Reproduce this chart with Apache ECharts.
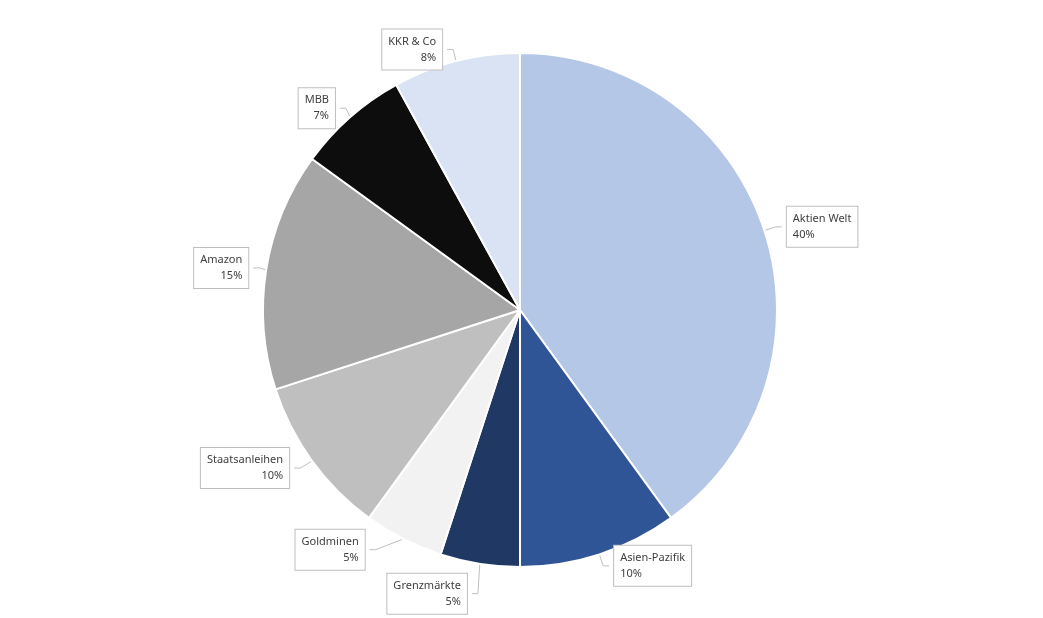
<!DOCTYPE html>
<html><head><meta charset="utf-8">
<script src="https://cdn.jsdelivr.net/npm/echarts@6/dist/echarts.min.js"></script>
<style>html,body{margin:0;background:#fff}#c{width:1043px;height:618px}</style>
</head><body><div id="c"></div>
<script>
const categories=["Aktien Welt","Asien-Pazifik","Grenzmärkte","Goldminen","Staatsanleihen","Amazon","MBB","KKR & Co"];
const values=[40,10,5,5,10,15,7,8];
const colors=["#b4c7e7","#2f5597","#203864","#f2f2f2","#bfbfbf","#a6a6a6","#0d0d0d","#dae3f3"];
const chart=echarts.init(document.getElementById('c'));
chart.setOption({
 animation:false,
 series:[{type:'pie',center:[520,310],radius:257,startAngle:90,clockwise:true,
  data:categories.map((n,i)=>({name:n,value:values[i],itemStyle:{color:colors[i]}})),
  itemStyle:{borderColor:'#fff',borderWidth:2},
  label:{show:true,position:'outside',formatter:'{b}\n{d}%',fontFamily:'Noto Sans',fontSize:11,color:'#404040',lineHeight:16,
   backgroundColor:'#fff',borderColor:'#bfbfbf',borderWidth:1,padding:[4,6],align:'center'},
  labelLine:{show:true,length:12,length2:6,lineStyle:{color:'#bfbfbf'}}
 }]
});
</script></body></html>
